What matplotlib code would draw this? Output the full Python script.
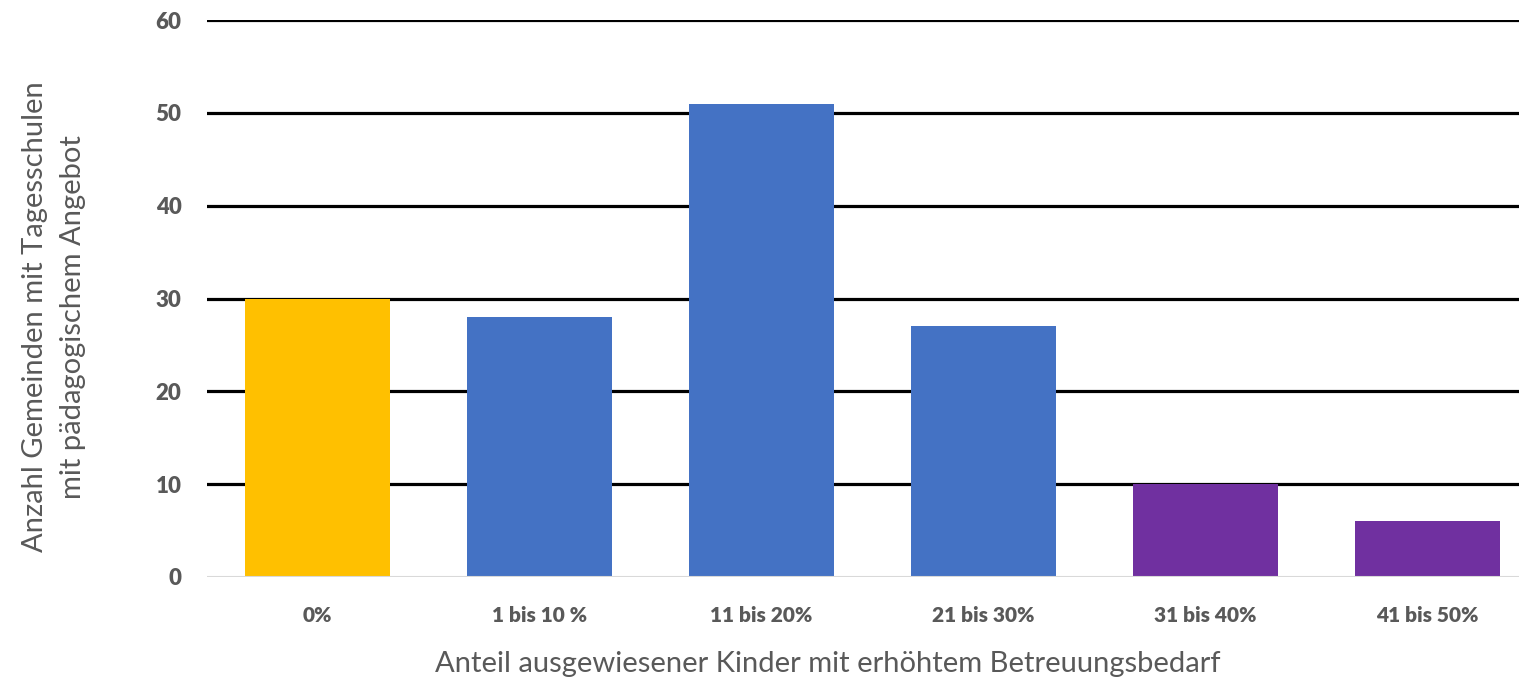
import matplotlib
matplotlib.use("Agg")
import matplotlib.pyplot as plt

categories = ["0%", "1 bis 10 %", "11 bis 20%", "21 bis 30%", "31 bis 40%", "41 bis 50%"]
counts = [30, 28, 51, 27, 10, 6]
bar_colors = ["#FFC000", "#4472C4", "#4472C4", "#4472C4", "#7030A0", "#7030A0"]
y_ticks = [0, 10, 20, 30, 40, 50, 60]

plt.rcParams["font.family"] = ["Lato", "DejaVu Sans"]
text_grey = "#595959"

fig = plt.figure(figsize=(15.19, 6.86), dpi=100)
ax = fig.add_axes([0.1360, 0.1589, 0.8768, 0.8119])

x = range(len(categories))
ax.bar(x, counts, width=0.653, color=bar_colors, zorder=3)

ax.set_xlim(-0.5, len(categories) - 0.5)
ax.set_ylim(0, 60)
ax.set_yticks(y_ticks)
for t in y_ticks[1:]:
    ax.axhline(t, color="black", linewidth=2.3, zorder=1)
ax.axhline(0, color="#D9D9D9", linewidth=1.5, zorder=4)

for s in ax.spines.values():
    s.set_visible(False)
ax.tick_params(axis="x", length=0, labelsize=15, labelcolor=text_grey, pad=21)
ax.tick_params(axis="y", length=0, labelsize=16, labelcolor=text_grey, pad=18)
ax.set_xticks(list(x))
ax.set_xticklabels(categories, fontweight="heavy")
for lbl in ax.get_yticklabels():
    lbl.set_fontweight("heavy")

fig.text(0.545, 1 - 664 / 686, "Anteil ausgewiesener Kinder mit erhöhtem Betreuungsbedarf",
         ha="center", va="center", fontsize=21, color=text_grey)
fig.text(0.0355, 0.538, "Anzahl Gemeinden mit Tagesschulen\nmit pädagogischem Angebot",
         rotation=90, ha="center", va="center", fontsize=21, color=text_grey,
         linespacing=1.6)

fig.savefig("out.png", dpi=100)
